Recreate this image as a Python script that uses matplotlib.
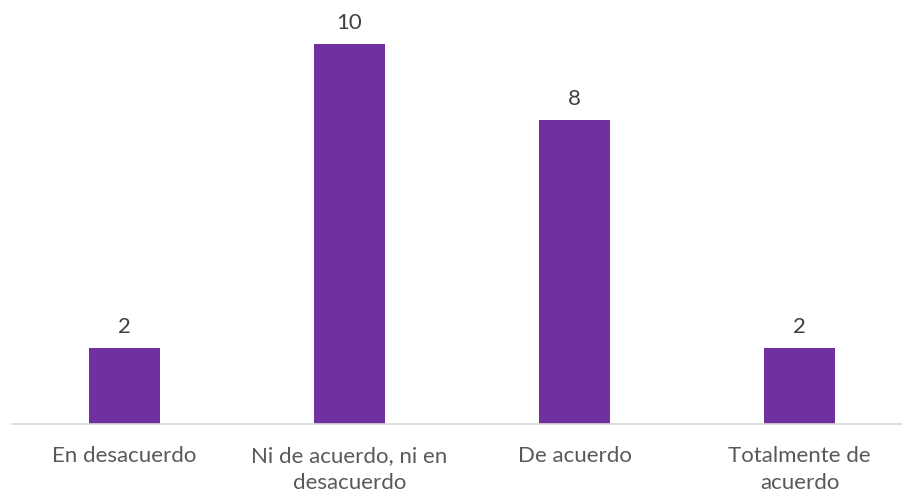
import numpy as np
import matplotlib.pyplot as plt

plt.rcParams['font.family'] = ['Lato', 'DejaVu Sans']

categorias = ['En desacuerdo', 'Ni de acuerdo, ni en\ndesacuerdo', 'De acuerdo', 'Totalmente de\nacuerdo']
valores = [2, 10, 8, 2]

fig = plt.figure(figsize=(9.02, 4.96), dpi=100)
# eje: x de 12 a 902 px, base en y=424 px
ax = fig.add_axes([12 / 902, (496 - 424) / 496, 890 / 902, 424 / 496])

x = np.arange(len(categorias))
barras = ax.bar(x, valores, width=0.315, color='#7030A0')

ax.set_xlim(-0.5, -0.5 + 890 / 225)
ax.set_ylim(0, 424 / 38)

for xi, v in zip(x, valores):
    ax.annotate(str(v), (xi, v), xytext=(0, 15), textcoords='offset points',
                ha='center', va='center', fontsize=16, color='#404040')

ax.set_xticks(x)
ax.set_xticklabels(categorias, fontsize=16, color='#595959', linespacing=1.45)
ax.tick_params(axis='x', length=0, pad=16)
ax.set_yticks([])
for s in ['top', 'right', 'left']:
    ax.spines[s].set_visible(False)
ax.spines['bottom'].set_color('#D9D9D9')
ax.spines['bottom'].set_linewidth(1.2)

fig.savefig('out.png', dpi=100)
